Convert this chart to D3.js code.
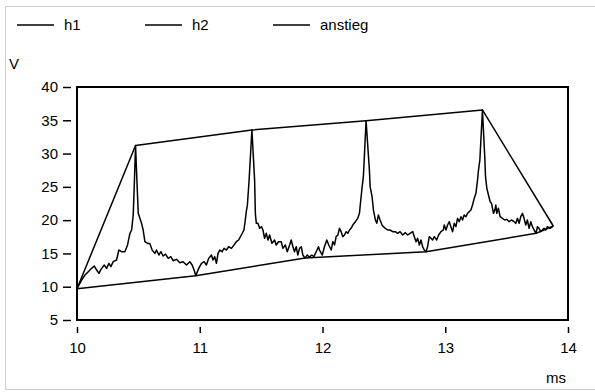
<!DOCTYPE html>
<meta charset="utf-8">
<style>
body { margin: 0; background: #fff; }
text { font-family: "Liberation Sans", Arial, sans-serif; font-size: 15px; fill: #000; }
.line { fill: none; stroke: #000; stroke-width: 1.5px; stroke-linejoin: round; }
.axis .domain { display: none; }
.axis line { stroke: #000; stroke-width: 1.5px; }
.axis text { font-size: 15px; }
</style>
<body>
<script src="https://cdn.jsdelivr.net/npm/d3@7/dist/d3.min.js"></script>
<script>

// series names (legend)
var seriesNames = ["h1", "h2", "anstieg"];

// h1: measured signal, time in ms
var h1Ms = [10.000,10.038,10.065,10.092,10.119,10.141,10.160,10.179,10.195,10.222,10.241,10.260,10.276,10.295,10.322,10.341,10.363,10.390,10.412,10.431,10.445,10.458,10.468,10.477,10.488,10.499,10.526,10.539,10.553,10.575,10.593,10.612,10.634,10.648,10.667,10.683,10.702,10.721,10.743,10.764,10.783,10.811,10.837,10.864,10.892,10.919,10.938,10.954,10.967,10.992,11.014,11.035,11.054,11.073,11.095,11.108,11.122,11.136,11.149,11.163,11.182,11.198,11.217,11.236,11.258,11.279,11.298,11.317,11.339,11.360,11.371,11.379,11.388,11.402,11.425,11.447,11.453,11.461,11.474,11.488,11.502,11.515,11.528,11.542,11.556,11.569,11.588,11.610,11.623,11.642,11.664,11.677,11.697,11.713,11.732,11.745,11.759,11.772,11.786,11.799,11.813,11.827,11.840,11.858,11.876,11.894,11.913,11.930,11.949,11.967,11.976,11.998,12.016,12.035,12.051,12.071,12.084,12.098,12.111,12.125,12.138,12.152,12.165,12.179,12.193,12.206,12.220,12.233,12.247,12.268,12.287,12.301,12.309,12.323,12.333,12.355,12.382,12.388,12.404,12.415,12.431,12.442,12.455,12.469,12.485,12.496,12.512,12.531,12.550,12.572,12.593,12.612,12.632,12.653,12.675,12.694,12.713,12.735,12.748,12.762,12.775,12.789,12.802,12.816,12.829,12.843,12.856,12.870,12.884,12.897,12.911,12.930,12.946,12.965,12.984,12.992,13.006,13.019,13.033,13.046,13.060,13.073,13.087,13.100,13.114,13.128,13.141,13.154,13.168,13.182,13.195,13.209,13.222,13.236,13.250,13.263,13.271,13.282,13.303,13.323,13.328,13.339,13.352,13.366,13.377,13.393,13.404,13.412,13.420,13.433,13.447,13.466,13.485,13.501,13.520,13.539,13.561,13.575,13.588,13.602,13.615,13.629,13.642,13.656,13.669,13.683,13.697,13.710,13.724,13.740,13.751,13.764,13.778,13.791,13.805,13.819,13.832,13.854,13.880];
// h1: measured signal, volts
var h1V = [9.70,11.00,11.76,12.26,12.76,13.11,12.51,12.01,12.61,13.26,12.76,13.51,13.01,13.76,14.01,15.51,15.26,15.26,16.27,18.02,18.52,20.77,26.00,31.20,26.00,21.02,19.52,18.52,16.76,16.51,16.51,15.51,15.01,15.51,14.76,15.26,14.61,14.91,14.26,14.51,13.91,14.11,13.61,13.76,13.26,13.76,13.26,12.51,11.66,12.76,13.51,13.76,13.26,14.26,14.76,14.01,14.51,13.51,15.01,15.51,15.26,15.76,15.51,16.01,15.76,16.27,16.76,17.02,17.77,18.52,20.02,21.27,22.27,26.00,33.54,26.03,21.02,19.52,19.52,18.77,19.02,18.52,17.27,18.02,17.02,17.77,16.52,17.02,16.27,16.76,16.76,15.76,16.27,15.26,16.27,17.02,16.01,15.26,16.01,14.76,15.76,16.01,14.76,14.30,14.76,14.45,14.76,14.51,15.26,16.01,15.51,14.76,16.01,17.02,16.27,15.51,16.76,16.27,17.52,17.77,18.77,18.27,17.52,17.77,18.27,18.02,18.52,18.77,19.27,19.77,20.27,21.02,22.53,25.02,26.53,34.94,27.53,25.02,23.52,21.52,20.02,19.52,20.77,20.02,19.27,19.02,18.77,18.52,18.52,18.27,18.27,18.02,18.27,17.77,18.12,17.77,18.02,18.27,17.52,16.76,17.27,16.27,17.02,16.01,15.51,15.26,16.01,17.52,17.27,17.02,17.52,17.02,17.77,18.27,18.52,19.27,18.52,19.27,19.77,19.02,18.27,19.52,19.02,20.27,19.77,20.52,20.02,20.77,20.52,21.02,21.27,21.52,22.27,23.27,24.03,26.03,27.53,29.03,36.55,29.03,26.53,24.78,23.78,22.77,22.53,21.02,21.52,22.27,21.02,21.78,20.52,20.27,20.02,20.12,19.77,20.02,19.77,19.52,20.27,19.52,20.52,21.02,20.27,19.27,20.02,18.77,19.77,19.02,18.52,18.02,19.02,18.77,18.27,18.52,18.77,18.52,19.02,18.77,19.12];

// h2: line through the peaks
var h2Ms = [10.000, 10.477, 11.425, 12.355, 13.303, 13.880];
var h2V  = [9.70, 31.20, 33.54, 34.94, 36.55, 19.12];

// anstieg: line through the valleys
var anstiegMs = [10.000, 10.967, 11.858, 12.843, 13.740, 13.880];
var anstiegV  = [9.70, 11.66, 14.30, 15.26, 18.02, 19.12];

// axis ticks
var xTicks = [10, 11, 12, 13, 14];
var yTicks = [5, 10, 15, 20, 25, 30, 35, 40];
var xLabel = "ms", yLabel = "V";

var width = 595, height = 392;
var margin = {top: 87, right: 27, bottom: 72, left: 77},
    w = width - margin.left - margin.right,
    h = height - margin.top - margin.bottom;

var svg = d3.select("body").append("svg")
    .attr("width", width)
    .attr("height", height);

// light outer frame
svg.append("rect")
    .attr("x", 5.5).attr("y", 6.5)
    .attr("width", 600).attr("height", 383)
    .attr("fill", "#fff")
    .attr("stroke", "#cfcfcf");

var x = d3.scaleLinear().domain([10, 14]).range([0, w]);
var y = d3.scaleLinear().domain([5, 40]).range([h, 0]);

var g = svg.append("g")
    .attr("transform", "translate(" + margin.left + "," + margin.top + ")");

// y axis (ticks detached from the plot box)
g.append("g")
    .attr("class", "axis")
    .attr("transform", "translate(-6,0)")
    .call(d3.axisLeft(y).tickValues(yTicks).tickSize(8).tickPadding(5)
        .tickFormat(d3.format("d")));

// x axis
g.append("g")
    .attr("class", "axis")
    .attr("transform", "translate(0," + (h + 7) + ")")
    .call(d3.axisBottom(x).tickValues(xTicks).tickSize(6).tickPadding(9)
        .tickFormat(d3.format("d")));

// plot box
g.append("rect")
    .attr("width", w).attr("height", h)
    .attr("fill", "none")
    .attr("stroke", "#000")
    .attr("stroke-width", 2);

var valueline = d3.line()
    .x(function(d) { return x(d[0]); })
    .y(function(d) { return y(d[1]); });

function pairs(ms, v) { return ms.map(function(t, i) { return [t, v[i]]; }); }

var lines = [pairs(h1Ms, h1V), pairs(h2Ms, h2V), pairs(anstiegMs, anstiegV)];

g.selectAll(".line")
    .data(lines)
  .enter().append("path")
    .attr("class", "line")
    .attr("d", valueline);

// axis titles
svg.append("text")
    .attr("x", 9).attr("y", 69)
    .text(yLabel);
svg.append("text")
    .attr("x", margin.left + w - 12).attr("y", 383)
    .attr("text-anchor", "middle")
    .text(xLabel);

// legend
var legend = svg.selectAll(".legend")
    .data(seriesNames)
  .enter().append("g")
    .attr("class", "legend")
    .attr("transform", function(d, i) { return "translate(" + (17 + i * 128) + ",25)"; });

legend.append("line")
    .attr("x1", 0).attr("x2", 37)
    .attr("stroke", "#000").attr("stroke-width", 1.5);

legend.append("text")
    .attr("x", 47).attr("y", 5)
    .text(function(d) { return d; });

</script>
</body>
